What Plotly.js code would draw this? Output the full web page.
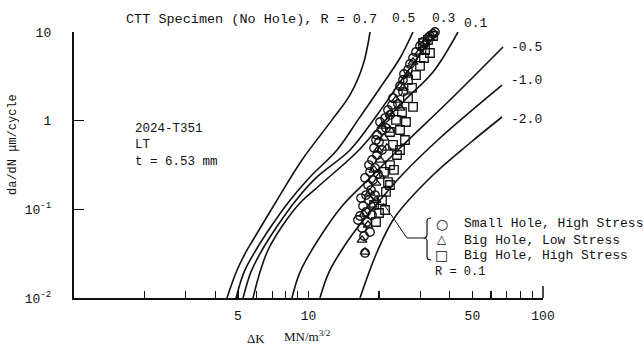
<!DOCTYPE html>
<html>
<head>
<meta charset="utf-8">
<script src="https://cdn.plot.ly/plotly-3.0.1.min.js"></script>
<style>html,body{margin:0;padding:0;background:#fff;}#chart{width:644px;height:349px;}</style>
</head>
<body>
<div id="chart"></div>
<script>
// ---- Axis ticks ----
const xTickVals = [5, 10, 50, 100];
const xTickText = ['5', '10', '50', '100'];
const xMinorVals = [2,3,4,6,7,8,9,20,30,40,60,70,80,90];
const yTickVals = [0.01, 0.1, 1, 10];
const yTickText = ['10<sup>-2</sup>','10<sup>-1</sup>','1','10'];

// ---- Predicted curves, one per stress ratio R (ΔK in MN/m^3/2, da/dN in µm/cycle) ----
const curveLabels = ['0.7','0.5','0.3','0.1','-0.5','-1.0','-2.0'];
const dK_R07  = [4.49, 4.96, 5.47, 5.80, 7.34, 9.38, 12.60, 15.03, 17.08, 18.30];
const rate_R07 = [0.0100, 0.0207, 0.0348, 0.0451, 0.127, 0.360, 1.02, 1.95, 4.24, 10];
const dK_R05  = [4.91, 5.31, 5.97, 6.99, 8.34, 10.15, 13.23, 16.26, 20.18, 24.56, 27.90];
const rate_R05 = [0.0100, 0.0196, 0.0348, 0.0666, 0.127, 0.232, 0.467, 1.02, 2.34, 5.09, 10];
const dK_R03  = [5.26, 5.68, 6.34, 7.41, 8.85, 10.87, 15.03, 19.60, 25.79, 31.39, 35.66];
const rate_R03 = [0.0100, 0.0196, 0.0348, 0.0666, 0.127, 0.232, 0.467, 1.16, 3.27, 6.60, 10];
const dK_R01  = [5.80, 6.21, 6.72, 7.78, 9.20, 11.19, 16.10, 20.18, 25.79, 33.96, 43.41];
const rate_R01 = [0.0100, 0.0196, 0.0348, 0.0666, 0.118, 0.188, 0.443, 0.871, 1.71, 3.54, 10];
const dK_Rm05  = [8.50, 9.20, 10.98, 14.03, 18.30, 24.56, 40.12, 67.53];
const rate_Rm05 = [0.0100, 0.0196, 0.0451, 0.112, 0.226, 0.492, 1.71, 6.77];
const dK_Rm10  = [11.19, 12.23, 14.31, 16.91, 20.18, 25.04, 36.37, 66.88];
const rate_Rm10 = [0.0100, 0.0196, 0.0396, 0.0720, 0.127, 0.244, 0.638, 2.52];
const dK_Rm20  = [16.58, 19.60, 23.38, 33.96, 48.84, 66.88];
const rate_Rm20 = [0.0100, 0.0330, 0.0820, 0.244, 0.560, 1.10];

// ---- Test data (R = 0.1) ----
const seriesNames = ['Small Hole, High Stress','Big Hole, Low Stress','Big Hole, High Stress'];
const dK_small_high = [17.42,17.25,18.29,16.91,17.76,16.58,17.59,17.08,18.11,17.59,18.47,17.94,18.84,18.29,19.21,18.66,19.60,19.03,19.98,19.60,20.58,20.18,21.20,21.83,22.70,22.93,24.08,24.56,25.29,25.54,26.56,27.09,27.91,28.73,29.89,30.78,32.32,32.96,33.96,34.63,
  16.26,18.66,16.75,19.21,17.42,19.79,18.11,20.58,19.40,21.40,22.26,24.08,25.29];
const rate_small_high = [0.0322,0.0500,0.0555,0.0616,0.0720,0.0841,0.0933,0.109,0.127,0.145,0.165,0.188,0.214,0.264,0.293,0.360,0.410,0.492,0.575,0.689,0.785,0.966,1.07,1.32,1.50,1.80,2.11,2.46,2.88,3.36,3.73,4.36,5.09,5.95,6.95,7.71,8.56,9.01,9.49,10,
  0.0758,0.0863,0.134,0.145,0.226,0.250,0.316,0.467,0.605,0.827,1.16,1.54,2.11];
const dK_big_low = [17.42,17.94,17.25,18.66,18.29,19.40,19.03,20.18,19.79,20.99,20.58,22.26,23.61,25.29,26.56,27.91,29.89,31.39,32.96,
  16.91,19.40,20.18,21.62,22.26,24.56];
const rate_big_low = [0.0330,0.0666,0.0886,0.112,0.153,0.198,0.278,0.360,0.467,0.638,0.871,1.19,1.71,2.34,3.27,4.59,5.95,7.71,8.56,
  0.0451,0.127,0.238,0.492,0.785,1.39];
const dK_big_high = [19.40,19.98,20.58,21.40,21.83,20.99,22.26,23.84,22.93,22.26,24.56,23.61,25.04,27.91,26.56,27.63,26.56,28.73,29.89,31.08,31.39,32.96,30.78,32.32,33.96,
  19.03,21.20,22.26,23.15,24.56,25.79,26.04];
const rate_big_high = [0.0720,0.0909,0.127,0.157,0.203,0.264,0.316,0.410,0.532,0.745,0.785,1.02,1.25,1.43,1.80,2.34,2.88,3.27,4.14,5.09,6.27,5.80,7.51,8.12,9.01,
  0.112,0.0983,0.188,0.278,0.467,0.605,0.966];

const MONO = 'Liberation Mono, Courier New, monospace';
const INK = '#111';
const curveX = [dK_R07, dK_R05, dK_R03, dK_R01, dK_Rm05, dK_Rm10, dK_Rm20];
const curveY = [rate_R07, rate_R05, rate_R03, rate_R01, rate_Rm05, rate_Rm10, rate_Rm20];

const traces = [];
curveX.forEach((xs, i) => {
  traces.push({
    x: xs, y: curveY[i], name: 'R = ' + curveLabels[i], type: 'scatter', mode: 'lines',
    line: {color: INK, width: 1.6, shape: 'spline', smoothing: 1},
    showlegend: false, cliponaxis: false, hoverinfo: 'skip'
  });
});
const markerStyle = (sym) => ({symbol: sym, size: 8.5, color: INK, line: {color: INK, width: 1.3}});
traces.push({x: dK_small_high, y: rate_small_high, name: seriesNames[0], type: 'scatter', mode: 'markers', marker: markerStyle('circle-open'), showlegend: false, cliponaxis: false});
traces.push({x: dK_big_low, y: rate_big_low, name: seriesNames[1], type: 'scatter', mode: 'markers', marker: markerStyle('triangle-up-open'), showlegend: false, cliponaxis: false});
traces.push({x: dK_big_high, y: rate_big_high, name: seriesNames[2], type: 'scatter', mode: 'markers', marker: markerStyle('square-open'), showlegend: false, cliponaxis: false});

function ann(text, x, y, opts) {
  return Object.assign({text: text, x: x, y: y, xref: 'paper', yref: 'paper', showarrow: false,
    xanchor: 'left', yanchor: 'middle', font: {family: MONO, size: 13, color: INK}}, opts || {});
}

const annotations = [
  ann(curveLabels[1], 0.6738, 1.0526),
  ann(curveLabels[2], 0.7591, 1.0526),
  ann(curveLabels[3], 0.8273, 1.0301),
  ann(curveLabels[4], 0.9275, 0.9436),
  ann(curveLabels[5], 0.9275, 0.8195),
  ann(curveLabels[6], 0.9275, 0.6692),
  ann('2024-T351<br>LT<br>t = 6.53 mm', 0.1258, 0.6692, {yanchor: 'top', align: 'left', font: {family: MONO, size: 12.5, color: INK}}),
  ann(seriesNames[0], 0.8273, 0.2782),
  ann(seriesNames[1], 0.8273, 0.2180),
  ann(seriesNames[2], 0.8273, 0.1579),
  ann('\u25CB', 0.7846, 0.2782, {xanchor: 'center', font: {family: 'DejaVu Sans', size: 14, color: INK}}),
  ann('\u25B3', 0.7846, 0.2218, {xanchor: 'center', font: {family: 'DejaVu Sans', size: 12, color: INK}}),
  ann('\u25A1', 0.7846, 0.1617, {xanchor: 'center', font: {family: 'DejaVu Sans', size: 14, color: INK}}),
  ann('R = 0.1', 0.7655, 0.0977, {font: {family: MONO, size: 12, color: INK}}),
  ann('da/dN \u03BCm/cycle', -0.1301, 0.5789, {xanchor: 'center', textangle: -90, font: {family: MONO, size: 12, color: INK}}),
  ann('\u0394K', 0.3646, -0.1504, {font: {family: 'Liberation Serif, serif', size: 13, color: INK}}),
  ann('MN/m<sup>3/2</sup>', 0.4435, -0.1429, {font: {family: 'Liberation Serif, serif', size: 13, color: INK}})
];

const shapes = [
  {type: 'path', xref: 'paper', yref: 'paper',
   path: 'M 0.7612 0.3008 Q 0.7527 0.3008 0.7527 0.2895 L 0.7527 0.2368 Q 0.7527 0.2256 0.7441 0.2256 Q 0.7527 0.2256 0.7527 0.2143 L 0.7527 0.1541 Q 0.7527 0.1429 0.7612 0.1429',
   line: {color: INK, width: 1.2}},
  {type: 'path', xref: 'paper', yref: 'paper',
   path: 'M 0.6588 0.3571 L 0.7100 0.2256 L 0.7441 0.2256',
   line: {color: INK, width: 1}},
  {type: 'line', xref: 'paper', yref: 'paper', x0: 1, x1: 1, y0: 0, y1: 0.045, line: {color: INK, width: 1.5}}
];

const layout = {
  width: 644, height: 349,
  margin: {l: 74, r: 101, t: 32, b: 51, pad: 0},
  paper_bgcolor: '#fff', plot_bgcolor: '#fff',
  showlegend: false,
  title: {text: 'CTT Specimen (No Hole), R = 0.7', x: 126/644, xanchor: 'left', xref: 'container',
          y: 1 - 18/349, yanchor: 'middle', yref: 'container',
          font: {family: MONO, size: 13.5, color: INK}},
  xaxis: {type: 'log', range: [0, 2], showline: true, linewidth: 2, linecolor: INK, mirror: false,
          ticks: 'inside', ticklen: 7, tickwidth: 1.2, tickcolor: INK,
          tickmode: 'array', tickvals: xTickVals, ticktext: xTickText,
          minor: {tickmode: 'array', tickvals: xMinorVals, ticks: 'inside', ticklen: 7, tickwidth: 1.2, tickcolor: INK, showgrid: false},
          showgrid: false, zeroline: false, ticklabelstandoff: 4,
          tickfont: {family: MONO, size: 13, color: INK}},
  yaxis: {type: 'log', range: [-2, 1], showline: true, linewidth: 2.2, linecolor: INK, mirror: false,
          ticks: 'inside', ticklen: 10, tickwidth: 1.2, tickcolor: INK,
          tickmode: 'array', tickvals: yTickVals, ticktext: yTickText,
          showgrid: false, zeroline: false, ticklabelstandoff: 18,
          tickfont: {family: MONO, size: 13, color: INK}},
  annotations: annotations,
  shapes: shapes
};

Plotly.newPlot('chart', traces, layout, {staticPlot: true, displayModeBar: false});
</script>
</body>
</html>
